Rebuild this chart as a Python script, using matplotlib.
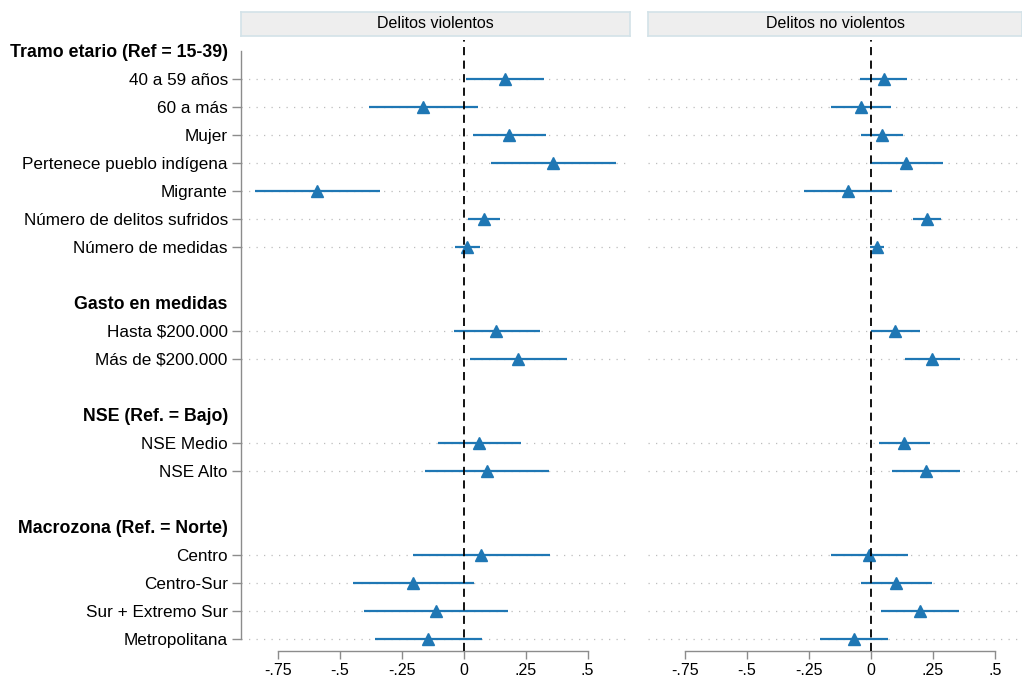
import matplotlib
matplotlib.use("Agg")
import matplotlib.pyplot as plt
import numpy as np

plt.rcParams['font.family'] = ['Liberation Sans', 'DejaVu Sans']

# Row layout: headings (bold), coefficients, and blank spacers (None)
rows = [
    ("Tramo etario (Ref = 15-39)", "h"),
    ("40 a 59 años", "c"),
    ("60 a más", "c"),
    ("Mujer", "c"),
    ("Pertenece pueblo indígena", "c"),
    ("Migrante", "c"),
    ("Número de delitos sufridos", "c"),
    ("Número de medidas", "c"),
    (None, "b"),
    ("Gasto en medidas", "h"),
    ("Hasta \\$200.000", "c"),
    ("Más de \\$200.000", "c"),
    (None, "b"),
    ("NSE (Ref. = Bajo)", "h"),
    ("NSE Medio", "c"),
    ("NSE Alto", "c"),
    (None, "b"),
    ("Macrozona (Ref. = Norte)", "h"),
    ("Centro", "c"),
    ("Centro-Sur", "c"),
    ("Sur + Extremo Sur", "c"),
    ("Metropolitana", "c"),
]

panels = ["Delitos violentos", "Delitos no violentos"]

# Estimates and 95% CI, in coefficient order
viol_est = [0.167, -0.163, 0.184, 0.360, -0.590, 0.083, 0.013,
            0.131, 0.220, 0.062, 0.093, 0.071, -0.204, -0.110, -0.143]
viol_lo = [0.009, -0.381, 0.039, 0.109, -0.842, 0.017, -0.036,
           -0.039, 0.025, -0.104, -0.156, -0.203, -0.446, -0.401, -0.359]
viol_hi = [0.325, 0.058, 0.331, 0.614, -0.339, 0.145, 0.066,
           0.306, 0.417, 0.230, 0.343, 0.348, 0.043, 0.179, 0.073]

noviol_est = [0.052, -0.040, 0.046, 0.142, -0.093, 0.226, 0.025,
              0.099, 0.248, 0.135, 0.221, -0.005, 0.103, 0.197, -0.068]
noviol_lo = [-0.043, -0.161, -0.038, -0.003, -0.270, 0.169, -0.003,
             0.001, 0.137, 0.032, 0.086, -0.160, -0.038, 0.041, -0.204]
noviol_hi = [0.145, 0.083, 0.130, 0.292, 0.085, 0.283, 0.052,
             0.197, 0.360, 0.239, 0.360, 0.150, 0.248, 0.356, 0.068]

xticks = [-0.75, -0.5, -0.25, 0, 0.25, 0.5]
xticklabels = ["-.75", "-.5", "-.25", "0", ".25", ".5"]

blue = "#1f77b4"
coef_pos = np.array([i for i, (lab, kind) in enumerate(rows) if kind == "c"])
label_pos = [i for i, (lab, kind) in enumerate(rows) if kind != "b"]
label_txt = [lab for lab, kind in rows if kind != "b"]
label_kind = [kind for lab, kind in rows if kind != "b"]

fig = plt.figure(figsize=(10.22, 6.81), dpi=100)
W, H = 1022, 681
ax_bottom = 1 - 651 / H
ax_top = 1 - 40 / H
frames = [(241, 630, (-0.898, 0.671)), (648, 1022, (-0.898, 0.610))]
data = [(viol_est, viol_lo, viol_hi), (noviol_est, noviol_lo, noviol_hi)]

for p, ((x0, x1, xl), (est, lo, hi)) in enumerate(zip(frames, data)):
    ax = fig.add_axes([x0 / W, ax_bottom, (x1 - x0) / W, ax_top - ax_bottom])
    ax.set_xlim(*xl)
    ax.set_ylim(len(rows) - 1 + 0.44, -0.38)

    for y in coef_pos:
        ax.axhline(y, color="#bdbdbd", lw=0.9, ls=(0, (1, 5)), zorder=1)

    ax.hlines(coef_pos, lo, hi, color=blue, lw=1.6, zorder=3)
    ax.plot(est, coef_pos, ls="none", marker="^", ms=9, color=blue,
            mec=blue, zorder=4)
    ax.axvline(0, color="black", lw=1.3, ls=(0, (4.5, 3)), zorder=5)

    for s in ["top", "right"]:
        ax.spines[s].set_visible(False)
    ax.spines["bottom"].set_bounds(-0.75, 0.5)
    ax.spines["bottom"].set_color("#8c8c8c")
    ax.spines["bottom"].set_linewidth(1.0)
    ax.set_xticks(xticks)
    ax.set_xticklabels(xticklabels, fontsize=11.5)
    ax.tick_params(axis="x", length=6, width=1.0, color="#8c8c8c", pad=2.5)

    if p == 0:
        ax.spines["left"].set_bounds(0, len(rows) - 1)
        ax.spines["left"].set_color("#8c8c8c")
        ax.spines["left"].set_linewidth(1.0)
        ax.set_yticks(label_pos)
        ax.set_yticklabels(label_txt, fontsize=12.3)
        ax.tick_params(axis="y", length=6.5, width=1.0, color="#8c8c8c", pad=3)
        for t, kind, tl in zip(ax.yaxis.get_major_ticks(), label_kind,
                               ax.get_yticklabels()):
            if kind == "h":
                t.tick1line.set_visible(False)
                tl.set_fontweight("bold")
                tl.set_fontsize(12.8)
    else:
        ax.spines["left"].set_visible(False)
        ax.set_yticks([])

    # panel strip
    sax = fig.add_axes([x0 / W, 1 - 36 / H, (x1 - x0) / W, 24.3 / H])
    sax.set_facecolor("#eeeeee")
    for s in sax.spines.values():
        s.set_color("#d3e2e8")
        s.set_linewidth(1.2)
    sax.set_xticks([])
    sax.set_yticks([])
    sax.text(0.5, 0.5, panels[p], ha="center", va="center", fontsize=11.5,
             transform=sax.transAxes)

fig.savefig("out.png", dpi=100)
